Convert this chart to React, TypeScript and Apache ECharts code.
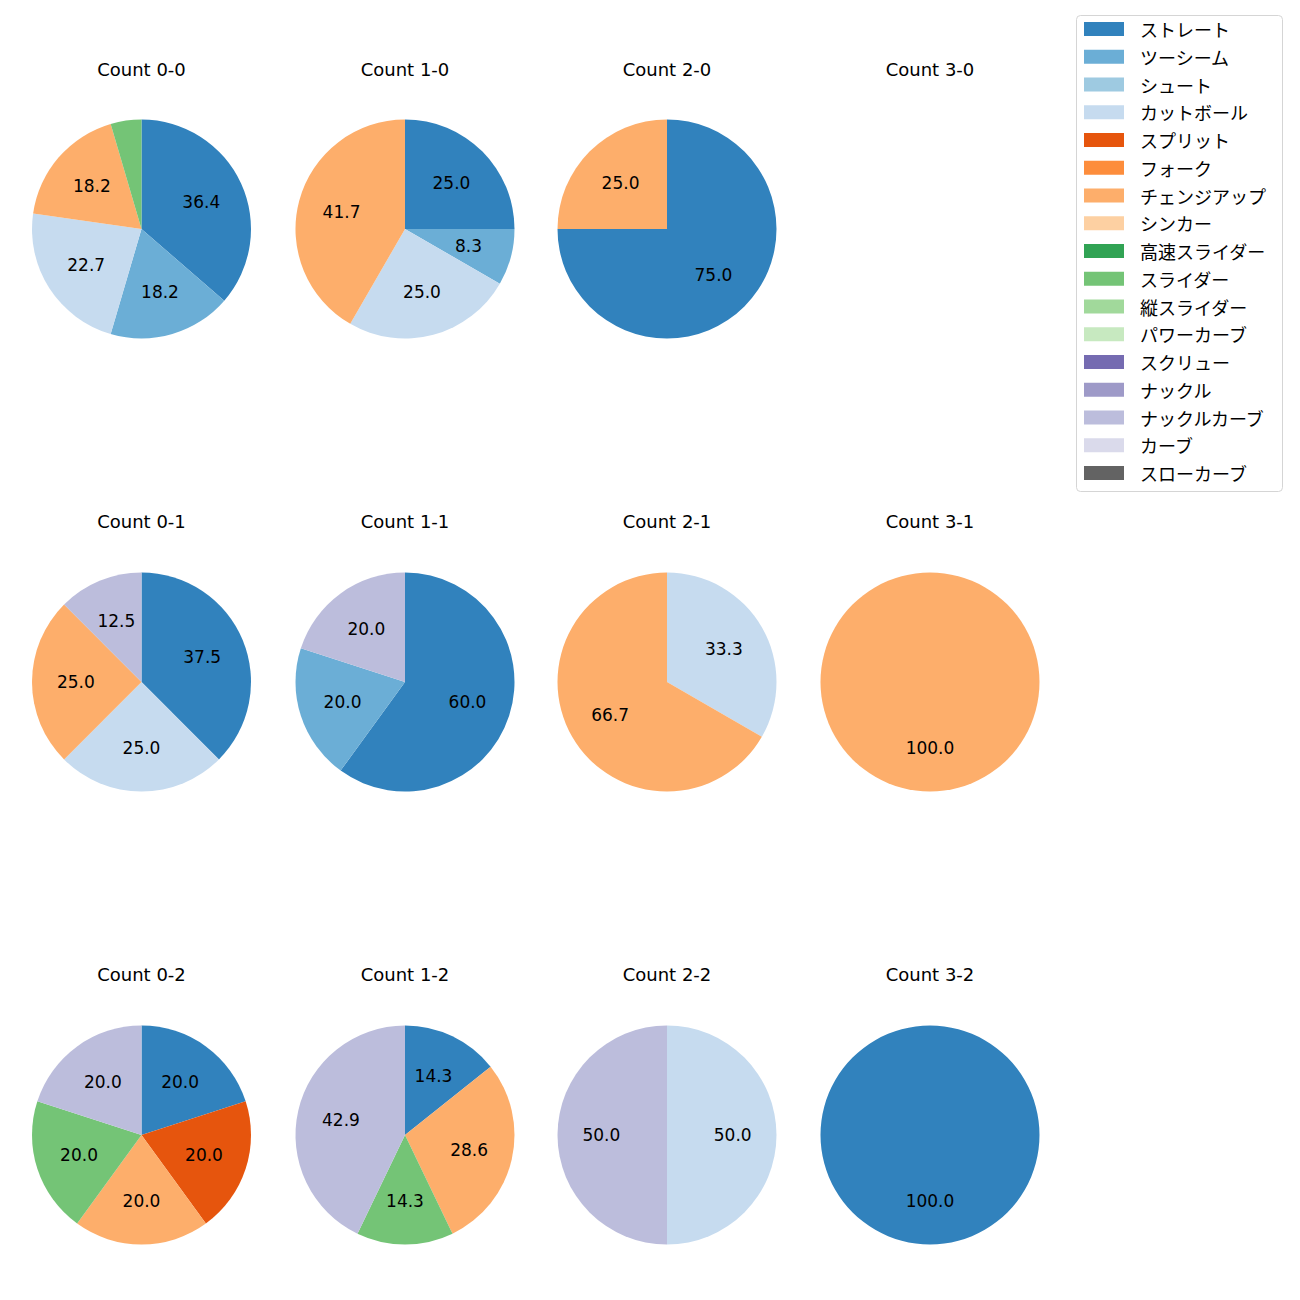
import React, { useEffect, useRef } from "react";
import * as echarts from "echarts";

const pitchNames = [
  "ストレート", "ツーシーム", "シュート", "カットボール", "スプリット", "フォーク",
  "チェンジアップ", "シンカー", "高速スライダー", "スライダー", "縦スライダー",
  "パワーカーブ", "スクリュー", "ナックル", "ナックルカーブ", "カーブ", "スローカーブ",
];
const pitchColors = [
  "#3182bd", "#6baed6", "#9ecae1", "#c6dbef", "#e6550d", "#fd8d3c",
  "#fdae6b", "#fdd0a2", "#31a354", "#74c476", "#a1d99b", "#c7e9c0",
  "#756bb1", "#9e9ac8", "#bcbddc", "#dadaeb", "#636363",
];

// counts per pitch type (same order as pitchNames)
const count00 = [8, 4, 0, 5, 0, 0, 4, 0, 0, 1, 0, 0, 0, 0, 0, 0, 0];
const count10 = [3, 1, 0, 3, 0, 0, 5, 0, 0, 0, 0, 0, 0, 0, 0, 0, 0];
const count20 = [3, 0, 0, 0, 0, 0, 1, 0, 0, 0, 0, 0, 0, 0, 0, 0, 0];
const count30 = [0, 0, 0, 0, 0, 0, 0, 0, 0, 0, 0, 0, 0, 0, 0, 0, 0];
const count01 = [3, 0, 0, 2, 0, 0, 2, 0, 0, 0, 0, 0, 0, 0, 1, 0, 0];
const count11 = [3, 1, 0, 0, 0, 0, 0, 0, 0, 0, 0, 0, 0, 0, 1, 0, 0];
const count21 = [0, 0, 0, 1, 0, 0, 2, 0, 0, 0, 0, 0, 0, 0, 0, 0, 0];
const count31 = [0, 0, 0, 0, 0, 0, 1, 0, 0, 0, 0, 0, 0, 0, 0, 0, 0];
const count02 = [1, 0, 0, 0, 1, 0, 1, 0, 0, 1, 0, 0, 0, 0, 1, 0, 0];
const count12 = [1, 0, 0, 0, 0, 0, 2, 0, 0, 1, 0, 0, 0, 0, 3, 0, 0];
const count22 = [0, 0, 0, 1, 0, 0, 0, 0, 0, 0, 0, 0, 0, 0, 1, 0, 0];
const count32 = [1, 0, 0, 0, 0, 0, 0, 0, 0, 0, 0, 0, 0, 0, 0, 0, 0];

const panelTitles = [
  ["Count 0-0", "Count 1-0", "Count 2-0", "Count 3-0"],
  ["Count 0-1", "Count 1-1", "Count 2-1", "Count 3-1"],
  ["Count 0-2", "Count 1-2", "Count 2-2", "Count 3-2"],
];
const panelCounts = [
  [count00, count10, count20, count30],
  [count01, count11, count21, count31],
  [count02, count12, count22, count32],
];

const colCenters = [141.5, 405, 667, 930];
const rowCenters = [229, 682, 1135];
const rowTitleY = [69, 521, 974];
const pieRadius = 109.5;
const LATIN_FONT = "'DejaVu Sans', sans-serif";
const CJK_FONT = "'Noto Sans CJK JP', 'Noto Sans', sans-serif";

export default function App() {
  const ref = useRef<HTMLDivElement>(null);
  useEffect(() => {
    if (!ref.current) return;
    const chart = echarts.init(ref.current, undefined, { renderer: "svg" });

    const titles: any[] = [];
    const pieSeries: any[] = [];
    const labelSeries: any[] = [];

    panelCounts.forEach((row, r) => {
      row.forEach((counts, c) => {
        titles.push({
          text: panelTitles[r][c],
          left: colCenters[c],
          top: rowTitleY[r] - 9,
          textAlign: "center",
          padding: 0,
          textStyle: { fontFamily: LATIN_FONT, fontSize: 18, fontWeight: "normal", color: "#000" },
        });
        const total = counts.reduce((a, b) => a + b, 0);
        if (total === 0) return;
        const data = pitchNames.map((n, i) => ({
          name: n,
          value: counts[i],
          itemStyle: { color: pitchColors[i] },
        }));
        pieSeries.push({
          type: "pie",
          center: [colCenters[c], rowCenters[r]],
          radius: pieRadius,
          startAngle: 90,
          clockwise: true,
          avoidLabelOverlap: false,
          label: { show: false },
          labelLine: { show: false },
          itemStyle: { borderWidth: 0 },
          emphasis: { disabled: true },
          silent: true,
          data,
        });
        // transparent ring used only to place percentage labels at ~0.6 of the radius
        labelSeries.push({
          type: "pie",
          center: [colCenters[c], rowCenters[r]],
          radius: [15.9, pieRadius],
          startAngle: 90,
          clockwise: true,
          avoidLabelOverlap: false,
          silent: true,
          emphasis: { disabled: true },
          itemStyle: { color: "rgba(0,0,0,0)", borderWidth: 0 },
          labelLine: { show: false },
          label: {
            show: true,
            position: "inside",
            color: "#000",
            fontFamily: LATIN_FONT,
            fontSize: 17,
            formatter: (p: any) => {
              const pct = (p.value / total) * 100;
              return pct < 5 ? "" : pct.toFixed(1);
            },
          },
          data: pitchNames.map((n, i) => ({ name: n, value: counts[i] })),
        });
      });
    });

    chart.setOption({
      animation: false,
      backgroundColor: "#fff",
      title: titles,
      legend: {
        orient: "vertical",
        left: 1084,
        top: 20,
        padding: 0,
        itemWidth: 40,
        itemHeight: 14,
        itemGap: 9.75,
        icon: "rect",
        selectedMode: false,
        data: pitchNames,
        textStyle: {
          fontFamily: CJK_FONT,
          fontSize: 18,
          lineHeight: 18,
          color: "#000",
          padding: [0, 0, 0, 11],
        },
      },
      graphic: [
        {
          type: "rect",
          z: 0,
          shape: { x: 1076.5, y: 15.5, width: 206, height: 476, r: 4 },
          style: { fill: "#fff", stroke: "#d5d5d5", lineWidth: 1 },
        },
      ],
      series: [...pieSeries, ...labelSeries],
    });

    return () => chart.dispose();
  }, []);

  return (
    <div
      ref={ref}
      style={{ position: "absolute", left: 0, top: 0, width: 1300, height: 1300 }}
    />
  );
}
